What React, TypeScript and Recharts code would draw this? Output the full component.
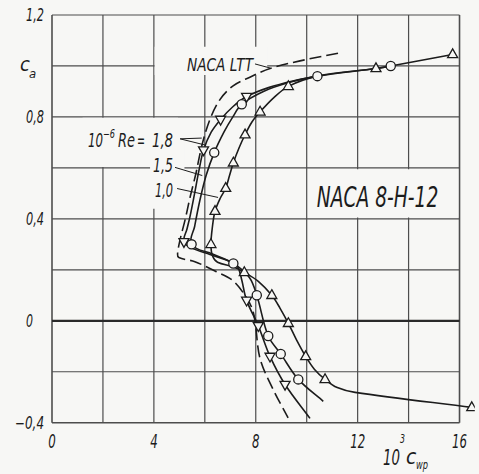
import React from 'react';
import { ComposedChart, Line, Scatter, XAxis, YAxis, ReferenceLine, ReferenceArea } from 'recharts';

type P = { x: number; y: number };
const pts = (a: number[][]): P[] => a.map(([x, y]) => ({ x, y }));

// ---------------- data ----------------
const xTicks = [0, 4, 8, 12, 16];
const xTickLabels = ['0', '4', '8', '12', '16'];
const yTicks = [-0.4, 0, 0.4, 0.8, 1.2];
const yTickLabels = ['−0,4', '0', '0,4', '0,8', '1,2'];
const xGridValues = [0, 2, 4, 6, 8, 10, 12, 14, 16];
const yGridValues = [-0.4, -0.2, 0, 0.2, 0.4, 0.6, 0.8, 1.0, 1.2];

// NACA LTT (dashed)
const nacaLttCurve = pts([
  [11.23, 1.05], [9.74, 1.02], [8.56, 0.99], [7.77, 0.956], [7.11, 0.922], [6.6, 0.869],
  [6.2, 0.79], [5.89, 0.69], [5.65, 0.578], [5.42, 0.484], [5.22, 0.394], [5.03, 0.319],
  [4.93, 0.262], [4.98, 0.248], [5.61, 0.232], [6.4, 0.195], [7.07, 0.16], [7.58, 0.1], [7.85, 0.05],
  [7.97, 0.0], [8.17, -0.149], [8.68, -0.269], [9.27, -0.381],
]);

// Re = 1.8e6 (triangle down)
const re18Curve = pts([
  [10.13, -0.383], [9.15, -0.25], [8.56, -0.14], [8.1, -0.02], [7.64, 0.08], [7.45, 0.16],
  [7.3, 0.21], [7.05, 0.23], [6.2, 0.26], [5.5, 0.285], [5.18, 0.31], [5.3, 0.36],
  [5.42, 0.41], [5.58, 0.49], [5.77, 0.59], [5.95, 0.67], [6.25, 0.74], [6.62, 0.79],
  [7.1, 0.84], [7.64, 0.88], [8.5, 0.915], [9.5, 0.942], [10.42, 0.96],
]);
const re18Points = pts([
  [5.18, 0.31], [5.95, 0.67], [6.62, 0.79], [7.64, 0.88], [7.64, 0.08], [8.1, -0.02],
  [8.56, -0.14], [9.15, -0.25],
]);

// Re = 1.5e6 (circle)
const re15Curve = pts([
  [10.65, -0.316], [9.67, -0.23], [8.98, -0.13], [8.49, -0.06], [8.04, 0.1], [7.75, 0.17],
  [7.12, 0.225], [6.3, 0.262], [5.48, 0.3], [5.6, 0.37], [5.8, 0.47], [6.05, 0.57],
  [6.37, 0.66], [6.75, 0.74], [7.1, 0.8], [7.45, 0.85], [8.3, 0.9], [9.3, 0.935],
  [10.42, 0.96], [12.72, 0.99], [13.3, 1.0],
]);
const re15Points = pts([
  [13.3, 1.0], [10.42, 0.96], [7.45, 0.85], [6.37, 0.66], [5.48, 0.3], [7.12, 0.225],
  [8.04, 0.1], [8.49, -0.06], [8.98, -0.13], [9.67, -0.23],
]);

// Re = 1.0e6 (triangle up)
const re10Curve = pts([
  [16.48, -0.34], [11.9, -0.281], [11.2, -0.262], [10.72, -0.23], [10.3, -0.19], [9.96, -0.14],
  [9.6, -0.075], [9.28, -0.01], [8.95, 0.05], [8.63, 0.1], [8.1, 0.155], [7.55, 0.19],
  [7.12, 0.212], [6.5, 0.23], [6.3, 0.255], [6.24, 0.3], [6.3, 0.37], [6.4, 0.43],
  [6.6, 0.48], [6.82, 0.52], [6.97, 0.57], [7.12, 0.62], [7.35, 0.68], [7.58, 0.73],
  [7.85, 0.78], [8.17, 0.82], [8.7, 0.875], [9.28, 0.92], [10.42, 0.96], [12.72, 0.99],
  [13.3, 1.0], [15.73, 1.045],
]);
const re10Points = pts([
  [15.73, 1.045], [12.72, 0.99], [9.28, 0.92], [8.17, 0.82], [7.58, 0.73], [7.12, 0.62],
  [6.82, 0.52], [6.4, 0.43], [6.24, 0.3], [7.55, 0.19], [8.63, 0.1], [9.28, -0.01],
  [9.96, -0.14], [10.72, -0.23], [16.48, -0.34],
]);

// leader lines for the annotations
const leaders: P[][] = [
  pts([[7.97, 1.008], [8.56, 0.992]]),
  pts([[5.03, 0.714], [5.88, 0.717]]),
  pts([[5.03, 0.714], [6.0, 0.69]]),
  pts([[4.83, 0.602], [5.9, 0.57]]),
  pts([[4.91, 0.519], [6.52, 0.484]]),
];

// blank (label) areas that interrupt the grid
const blankAreas = [
  { x1: 4.03, x2: 8.45, y1: 0.965, y2: 1.075 },
  { x1: 1.2, x2: 4.95, y1: 0.603, y2: 0.797 },
  { x1: 3.85, x2: 5.2, y1: 0.44, y2: 0.7 },
  { x1: 10.05, x2: 15.95, y1: 0.405, y2: 0.595 },
];

// ---------------- style ----------------
const W = 479;
const H = 474;
const BG = '#f7f7f5';
const INK = '#1c1c1c';
const GRID = '#4d4d4d';
const FONT = "'DejaVu Sans Condensed', 'DejaVu Sans', sans-serif";

// smooth curve through the read points: unit tangents, handles scaled to each segment length
const smooth = (context: any) => {
  let p: number[][] = [];
  const unit = (dx: number, dy: number) => {
    const l = Math.hypot(dx, dy) || 1;
    return [dx / l, dy / l];
  };
  return {
    areaStart() {},
    areaEnd() {},
    lineStart() {
      p = [];
    },
    point(x: number, y: number) {
      p.push([+x, +y]);
    },
    lineEnd() {
      const n = p.length;
      if (!n) return;
      context.moveTo(p[0][0], p[0][1]);
      if (n === 1) return;
      const tan = p.map((_, i) => {
        const a = p[Math.max(0, i - 1)];
        const b = p[Math.min(n - 1, i + 1)];
        return unit(b[0] - a[0], b[1] - a[1]);
      });
      for (let i = 0; i < n - 1; i++) {
        const a = p[i];
        const b = p[i + 1];
        const L = Math.hypot(b[0] - a[0], b[1] - a[1]) / 3;
        context.bezierCurveTo(
          a[0] + tan[i][0] * L,
          a[1] + tan[i][1] * L,
          b[0] - tan[i + 1][0] * L,
          b[1] - tan[i + 1][1] * L,
          b[0],
          b[1],
        );
      }
    },
  };
};

const TriUp = (props: any) => {
  const { cx, cy } = props;
  if (cx == null || cy == null) return null;
  return (
    <path d={`M${cx},${cy - 5.6}L${cx + 5},${cy + 3.2}L${cx - 5},${cy + 3.2}Z`} fill={BG} stroke={INK} strokeWidth={1.3} />
  );
};
const TriDown = (props: any) => {
  const { cx, cy } = props;
  if (cx == null || cy == null) return null;
  return (
    <path d={`M${cx},${cy + 5.6}L${cx + 5},${cy - 3.2}L${cx - 5},${cy - 3.2}Z`} fill={BG} stroke={INK} strokeWidth={1.3} />
  );
};
const Circ = (props: any) => {
  const { cx, cy } = props;
  if (cx == null || cy == null) return null;
  return <circle cx={cx} cy={cy} r={4.6} fill={BG} stroke={INK} strokeWidth={1.3} />;
};

const XTick = (props: any) => {
  const { x, payload } = props;
  const i = xTicks.indexOf(payload.value);
  const label = i >= 0 ? xTickLabels[i] : '';
  return (
    <text x={x} y={448} textAnchor="middle" fontFamily={FONT} fontStyle="italic" fontSize={20} fill={INK}
      textLength={label.length * 7.5} lengthAdjust="spacingAndGlyphs">
      {label}
    </text>
  );
};
const YTick = (props: any) => {
  const { y, payload } = props;
  const i = yTicks.indexOf(payload.value);
  const label = i >= 0 ? yTickLabels[i] : '';
  const zero = label === '0';
  const len = label.length === 1 ? 7 : label.startsWith('−') ? 29 : 18;
  return (
    <text x={zero ? 26 : 44} y={y + 6} textAnchor={zero ? 'start' : 'end'} fontFamily={FONT} fontStyle="italic"
      fontSize={17} fill={INK} textLength={len} lengthAdjust="spacingAndGlyphs">
      {label}
    </text>
  );
};

const T = (p: any) => (
  <text fontFamily={FONT} fontStyle="italic" fill={INK} lengthAdjust="spacingAndGlyphs" {...p} />
);

export default function App() {
  return (
    <div style={{ position: 'absolute', left: 0, top: 0, width: W, height: H, background: BG }}>
      <ComposedChart width={W} height={H} margin={{ top: 15, right: 4.2, bottom: 11.3, left: 0 }}>
        <XAxis dataKey="x" type="number" domain={[0, 16.6]} ticks={xTicks} interval={0} axisLine={false}
          tickLine={false} tickSize={0} tickMargin={0} height={40} tick={<XTick />} allowDataOverflow />
        <YAxis dataKey="y" type="number" domain={[-0.4, 1.2]} ticks={yTicks} interval={0} axisLine={false}
          tickLine={false} tickSize={0} tickMargin={0} width={52} tick={<YTick />} allowDataOverflow />

        {xGridValues.map((v) => (
          <ReferenceLine key={'gx' + v} segment={[{ x: v, y: -0.4 }, { x: v, y: 1.2 }]} stroke={GRID}
            strokeWidth={v === 0 || v === 16 ? 1.6 : 1.2} ifOverflow="visible" zIndex={-100} />
        ))}
        {yGridValues.map((v) => (
          <ReferenceLine key={'gy' + v} segment={[{ x: 0, y: v }, { x: 16, y: v }]} stroke={v === 0 ? '#2a2a2a' : GRID}
            strokeWidth={v === 0 ? 2.2 : v === -0.4 ? 1.6 : 1.2} ifOverflow="visible" zIndex={-100} />
        ))}
        {blankAreas.map((a, i) => (
          <ReferenceArea key={'ba' + i} x1={a.x1} x2={a.x2} y1={a.y1} y2={a.y2} fill={BG} fillOpacity={1}
            stroke="none" ifOverflow="visible" zIndex={-50} />
        ))}
        {leaders.map((s, i) => (
          <ReferenceLine key={'ld' + i} segment={s} stroke={INK} strokeWidth={1} ifOverflow="visible" />
        ))}

        <Line data={nacaLttCurve} dataKey="y" type={smooth as any} stroke={INK} strokeWidth={1.6} strokeDasharray="12 5"
          dot={false} activeDot={false} isAnimationActive={false} />
        <Line data={re18Curve} dataKey="y" type={smooth as any} stroke={INK} strokeWidth={1.6} dot={false}
          activeDot={false} isAnimationActive={false} />
        <Line data={re15Curve} dataKey="y" type={smooth as any} stroke={INK} strokeWidth={1.6} dot={false}
          activeDot={false} isAnimationActive={false} />
        <Line data={re10Curve} dataKey="y" type={smooth as any} stroke={INK} strokeWidth={1.6} dot={false}
          activeDot={false} isAnimationActive={false} />

        <Scatter data={re18Points} shape={TriDown} isAnimationActive={false} />
        <Scatter data={re15Points} shape={Circ} isAnimationActive={false} />
        <Scatter data={re10Points} shape={TriUp} isAnimationActive={false} />
      </ComposedChart>

      <svg width={W} height={H} style={{ position: 'absolute', left: 0, top: 0, pointerEvents: 'none' }}>
        <T x={20} y={71} fontSize={20}>c</T>
        <T x={29} y={78} fontSize={13}>a</T>

        <T x={383} y={465} fontSize={21} textLength={17}>10</T>
        <T x={400} y={443} fontSize={12} textLength={5}>3</T>
        <T x={406} y={464} fontSize={21}>c</T>
        <T x={416} y={469} fontSize={13} textLength={12}>wp</T>

        <T x={187} y={71} fontSize={18} textLength={66}>NACA LTT</T>

        <T x={88} y={147} fontSize={20} textLength={15}>10</T>
        <T x={103} y={138} fontSize={12} textLength={12}>−6</T>
        <T x={118} y={147} fontSize={20} textLength={17}>Re</T>
        <T x={137} y={147} fontSize={20} textLength={8}>=</T>
        <T x={152} y={147} fontSize={20} textLength={21}>1,8</T>
        <T x={153} y={172} fontSize={20} textLength={20}>1,5</T>
        <T x={155} y={197} fontSize={20} textLength={18}>1,0</T>

        <T x={316.7} y={206.7} fontSize={28} textLength={121.6}>NACA 8-H-12</T>
      </svg>
    </div>
  );
}
